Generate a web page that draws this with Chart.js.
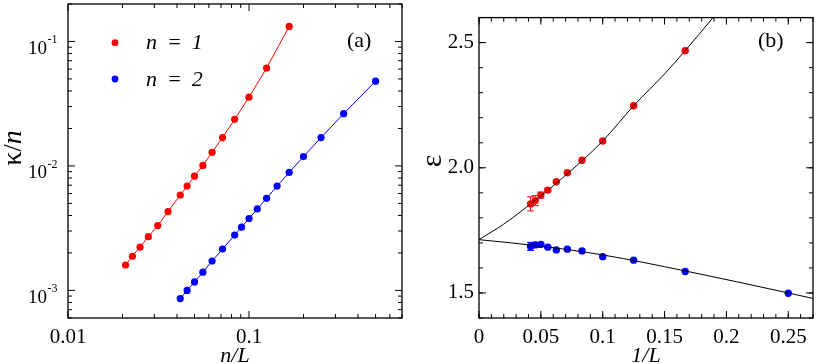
<!DOCTYPE html>
<html>
<head>
<meta charset="utf-8">
<script src="https://cdn.jsdelivr.net/npm/chart.js@4.4.0/dist/chart.umd.min.js"></script>
<style>
    body { margin: 0; background: #fff; }
    #wrap { position: relative; width: 817px; height: 364px; }
    .panel { position: absolute; top: 0; height: 364px; }
    #panel-a { left: 0; width: 410px; }
    #panel-b { left: 410px; width: 407px; }
</style>
</head>
<body>
<div id="wrap">
    <div class="panel" id="panel-a"><canvas id="chart-a"></canvas></div>
    <div class="panel" id="panel-b"><canvas id="chart-b"></canvas></div>
</div>
<script>
// panel (a): kappa/n against n/L (log-log)
let a_x_n1 = [0.1667, 0.125, 0.1, 0.0833, 0.0714, 0.0625, 0.0556, 0.05, 0.0455, 0.0417, 0.0357, 0.0313, 0.0278, 0.025, 0.0227, 0.0208];
let a_y_n1 = [0.132, 0.0612, 0.0357, 0.0237, 0.0169, 0.01285, 0.0101, 0.00827, 0.00689, 0.00584, 0.0043, 0.00332, 0.0027, 0.00223, 0.00188, 0.0016];
let a_x_n2 = [0.5, 0.3333, 0.25, 0.2, 0.1667, 0.1429, 0.125, 0.1111, 0.1, 0.0909, 0.0833, 0.0714, 0.0625, 0.0556, 0.05, 0.0455, 0.0417];
let a_y_n2 = [0.048, 0.0263, 0.0169, 0.0119, 0.00886, 0.00689, 0.00549, 0.00451, 0.00378, 0.00322, 0.00278, 0.00215, 0.00172, 0.0014, 0.00117, 0.001, 0.00086];
let a_x_ticks = [0.01, 0.1];
let a_x_labels = ['0.01', '0.1'];
let a_y_ticks = [0.1, 0.01, 0.001];
let a_y_exps = ['-1', '-2', '-3'];

// panel (b): epsilon against 1/L
let b_x_n1 = [0.1667, 0.125, 0.1, 0.0833, 0.0714, 0.0625, 0.0556, 0.05, 0.0455, 0.0417];
let b_y_n1 = [2.468, 2.248, 2.107, 2.030, 1.980, 1.944, 1.911, 1.891, 1.869, 1.856];
let b_err_n1 = [0, 0, 0, 0, 0, 0, 0.006, 0.012, 0.02, 0.028];
let b_x_n2 = [0.25, 0.1667, 0.125, 0.1, 0.0833, 0.0714, 0.0625, 0.0556, 0.05, 0.0455, 0.0417];
let b_y_n2 = [1.499, 1.586, 1.631, 1.645, 1.668, 1.675, 1.672, 1.683, 1.694, 1.692, 1.686];
let b_err_n2 = [0, 0, 0, 0, 0, 0, 0, 0.004, 0.006, 0.01, 0.016];
// fitted curves
let fit_up_x = [0, 0.02, 0.04, 0.0667, 0.1, 0.125, 0.15, 0.1667, 0.19];
let fit_up_y = [1.713, 1.775, 1.849, 1.956, 2.107, 2.248, 2.375, 2.468, 2.605];
let fit_low_x = [0, 0.05, 0.1, 0.1667, 0.25, 0.27];
let fit_low_y = [1.713, 1.687, 1.652, 1.588, 1.500, 1.478];
let b_x_ticks = [0, 0.05, 0.1, 0.15, 0.2, 0.25];
let b_x_labels = ['0', '0.05', '0.1', '0.15', '0.2', '0.25'];
let b_y_ticks = [1.5, 2.0, 2.5];
let b_y_labels = ['1.5', '2.0', '2.5'];

const SERIF = "'Liberation Serif', 'Times New Roman', serif";
const RED = '#ff0000';
const BLUE = '#0000ff';

function pts(xs, ys) {
    return xs.map((x, i) => ({ x: x, y: ys[i] }));
}

function logMinor(lo, hi) {
    let out = [];
    for (let d = lo; d < hi; d *= 10) {
        for (let k = 2; k <= 9; k++) out.push(d * k);
    }
    return out;
}

function stepMinor(lo, hi, step) {
    let out = [];
    let n = Math.round((hi - lo) / step);
    for (let i = 0; i <= n; i++) out.push(lo + i * step);
    return out;
}

// frame + inward ticks on all four sides
let framePlugin = {
    id: 'frame',
    afterDraw(chart, args, opts) {
        let ctx = chart.ctx;
        let a = chart.chartArea;
        let xs = chart.scales.x;
        let ys = chart.scales.y;
        ctx.save();
        ctx.strokeStyle = '#000';
        ctx.lineWidth = 1;
        ctx.beginPath();
        let tx = (v, len) => {
            let p = xs.getPixelForValue(v);
            if (p < a.left - 0.5 || p > a.right + 0.5) return;
            ctx.moveTo(p, a.bottom); ctx.lineTo(p, a.bottom - len);
            ctx.moveTo(p, a.top); ctx.lineTo(p, a.top + len);
        };
        let ty = (v, len) => {
            let p = ys.getPixelForValue(v);
            if (p < a.top - 0.5 || p > a.bottom + 0.5) return;
            ctx.moveTo(a.left, p); ctx.lineTo(a.left + len, p);
            ctx.moveTo(a.right, p); ctx.lineTo(a.right - len, p);
        };
        opts.xMajor.forEach(v => tx(v, 7));
        opts.xMinor.forEach(v => tx(v, 4));
        opts.yMajor.forEach(v => ty(v, 7));
        opts.yMinor.forEach(v => ty(v, 4));
        ctx.stroke();
        ctx.lineWidth = 1.3;
        ctx.strokeRect(a.left, a.top, a.right - a.left, a.bottom - a.top);

        // axis titles and tag
        ctx.fillStyle = '#000';
        ctx.textBaseline = 'alphabetic';
        ctx.textAlign = 'center';
        ctx.font = 'italic 22px ' + SERIF;
        ctx.fillText(opts.xTitle, (a.left + a.right) / 2, 362);
        ctx.textAlign = 'left';
        ctx.font = '22px ' + SERIF;
        ctx.fillText(opts.tag, a.right - 55, 47);
        ctx.restore();
    }
};

// error bars for point datasets
let errorPlugin = {
    id: 'errbars',
    afterDatasetsDraw(chart, args, opts) {
        if (!opts.sets) return;
        let ctx = chart.ctx;
        let ys = chart.scales.y;
        ctx.save();
        ctx.lineWidth = 1;
        opts.sets.forEach(s => {
            let meta = chart.getDatasetMeta(s.index);
            let ds = chart.data.datasets[s.index];
            ctx.strokeStyle = ds.borderColor;
            ctx.beginPath();
            meta.data.forEach((el, i) => {
                let e = s.err[i];
                if (!e) return;
                let v = ds.data[i].y;
                let top = ys.getPixelForValue(v + e);
                let bot = ys.getPixelForValue(v - e);
                ctx.moveTo(el.x, top); ctx.lineTo(el.x, bot);
                ctx.moveTo(el.x - 3.5, top); ctx.lineTo(el.x + 3.5, top);
                ctx.moveTo(el.x - 3.5, bot); ctx.lineTo(el.x + 3.5, bot);
            });
            ctx.stroke();
        });
        ctx.restore();
    }
};

// panel (a) extras: y tick labels with exponents, y title, legend
let panelAPlugin = {
    id: 'panelA',
    afterDraw(chart) {
        let ctx = chart.ctx;
        let ys = chart.scales.y;
        ctx.save();
        ctx.fillStyle = '#000';
        ctx.textBaseline = 'alphabetic';
        a_y_ticks.forEach((v, i) => {
            let p = ys.getPixelForValue(v);
            ctx.textAlign = 'right';
            ctx.font = '19px ' + SERIF;
            ctx.fillText('10', 47, p + 12.5);
            ctx.textAlign = 'left';
            ctx.font = '12px ' + SERIF;
            ctx.fillText(a_y_exps[i], 47.5, p + 2);
        });

        // y title: kappa/n, rotated
        ctx.translate(14, 148);
        ctx.rotate(-Math.PI / 2);
        ctx.textBaseline = 'middle';
        let parts = [['κ', '28px '], ['/', '26px '], ['n', 'italic 28px ']];
        let widths = parts.map(p => { ctx.font = p[1] + SERIF; return ctx.measureText(p[0]).width; });
        let total = widths.reduce((s, w) => s + w, 0);
        let x = -total / 2;
        ctx.textAlign = 'left';
        parts.forEach((p, i) => {
            ctx.font = p[1] + SERIF;
            ctx.fillText(p[0], x, 0);
            x += widths[i];
        });
        ctx.restore();

        // legend
        ctx.save();
        let rows = [[RED, 'n = 1', 42.7], [BLUE, 'n = 2', 79]];
        rows.forEach(r => {
            ctx.fillStyle = r[0];
            ctx.beginPath();
            ctx.arc(115, r[2], 3.4, 0, Math.PI * 2);
            ctx.fill();
            ctx.fillStyle = '#000';
            ctx.font = 'italic 22px ' + SERIF;
            ctx.textAlign = 'left';
            ctx.textBaseline = 'middle';
            ctx.fillText(r[1].replace(/ /g, '\u2009 '), 146, r[2] + 1);
        });
        ctx.restore();
    }
};

let panelBPlugin = {
    id: 'panelB',
    afterDraw(chart) {
        let ctx = chart.ctx;
        ctx.save();
        ctx.fillStyle = '#000';
        ctx.translate(23, 161);
        ctx.rotate(-Math.PI / 2);
        ctx.textAlign = 'center';
        ctx.textBaseline = 'middle';
        ctx.font = '30px ' + SERIF;
        ctx.fillText('ε', 0, 0);
        ctx.restore();
    }
};

Chart.defaults.font.family = SERIF;
Chart.defaults.color = '#000';
Chart.defaults.animation = false;

new Chart(document.getElementById('chart-a'), {
    type: 'scatter',
    data: {
        datasets: [
            {
                label: 'n = 1',
                data: pts(a_x_n1, a_y_n1),
                showLine: true,
                borderColor: RED,
                backgroundColor: RED,
                borderWidth: 1,
                pointRadius: 3.6,
                pointBorderWidth: 0
            },
            {
                label: 'n = 2',
                data: pts(a_x_n2, a_y_n2),
                showLine: true,
                borderColor: BLUE,
                backgroundColor: BLUE,
                borderWidth: 1,
                pointRadius: 3.6,
                pointBorderWidth: 0
            }
        ]
    },
    options: {
        responsive: true,
        maintainAspectRatio: false,
        layout: { padding: { top: 2, right: 8, left: 0, bottom: 0 } },
        scales: {
            x: {
                type: 'logarithmic',
                min: 0.01,
                max: 0.7,
                grid: { display: false, drawTicks: false },
                border: { display: false },
                afterBuildTicks: (scale) => { scale.ticks = a_x_ticks.map(v => ({ value: v })); },
                ticks: {
                    padding: 7,
                    maxRotation: 0,
                    font: { size: 21 },
                    callback: (v) => a_x_labels[a_x_ticks.indexOf(v)]
                },
                afterFit: (scale) => { scale.height = 46; }
            },
            y: {
                type: 'logarithmic',
                min: 0.0006,
                max: 0.2,
                grid: { display: false, drawTicks: false },
                border: { display: false },
                ticks: { display: false },
                afterFit: (scale) => { scale.width = 68; }
            }
        },
        plugins: {
            legend: { display: false },
            tooltip: { enabled: false },
            frame: {
                xMajor: a_x_ticks,
                xMinor: logMinor(0.01, 1),
                yMajor: a_y_ticks,
                yMinor: logMinor(0.0001, 1),
                xTitle: 'n/L',
                tag: '(a)'
            }
        }
    },
    plugins: [framePlugin, panelAPlugin]
});

new Chart(document.getElementById('chart-b'), {
    type: 'scatter',
    data: {
        datasets: [
            {
                label: 'fit n = 1',
                data: pts(fit_up_x, fit_up_y),
                showLine: true,
                borderColor: '#000',
                borderWidth: 1,
                pointRadius: 0,
                cubicInterpolationMode: 'monotone'
            },
            {
                label: 'fit n = 2',
                data: pts(fit_low_x, fit_low_y),
                showLine: true,
                borderColor: '#000',
                borderWidth: 1,
                pointRadius: 0,
                cubicInterpolationMode: 'monotone'
            },
            {
                label: 'n = 1',
                data: pts(b_x_n1, b_y_n1),
                borderColor: RED,
                backgroundColor: RED,
                pointRadius: 3.7,
                pointBorderWidth: 0
            },
            {
                label: 'n = 2',
                data: pts(b_x_n2, b_y_n2),
                borderColor: BLUE,
                backgroundColor: BLUE,
                pointRadius: 3.7,
                pointBorderWidth: 0
            }
        ]
    },
    options: {
        responsive: true,
        maintainAspectRatio: false,
        layout: { padding: { top: 2, right: 3, left: 0, bottom: 0 } },
        scales: {
            x: {
                type: 'linear',
                min: 0,
                max: 0.27,
                grid: { display: false, drawTicks: false },
                border: { display: false },
                afterBuildTicks: (scale) => { scale.ticks = b_x_ticks.map(v => ({ value: v })); },
                ticks: {
                    padding: 7,
                    maxRotation: 0,
                    font: { size: 21 },
                    callback: (v) => b_x_labels[b_x_ticks.indexOf(v)]
                },
                afterFit: (scale) => { scale.height = 46; }
            },
            y: {
                type: 'linear',
                min: 1.4,
                max: 2.6,
                grid: { display: false, drawTicks: false },
                border: { display: false },
                afterBuildTicks: (scale) => { scale.ticks = b_y_ticks.map(v => ({ value: v })); },
                ticks: {
                    padding: 5,
                    font: { size: 21 },
                    callback: (v) => b_y_labels[b_y_ticks.indexOf(v)]
                },
                afterFit: (scale) => { scale.width = 69; }
            }
        },
        plugins: {
            legend: { display: false },
            tooltip: { enabled: false },
            frame: {
                xMajor: b_x_ticks,
                xMinor: stepMinor(0, 0.27, 0.01),
                yMajor: b_y_ticks,
                yMinor: stepMinor(1.4, 2.6, 0.1),
                xTitle: '1/L',
                tag: '(b)'
            },
            errbars: {
                sets: [
                    { index: 2, err: b_err_n1 },
                    { index: 3, err: b_err_n2 }
                ]
            }
        }
    },
    plugins: [framePlugin, errorPlugin, panelBPlugin]
});
</script>
</body>
</html>
